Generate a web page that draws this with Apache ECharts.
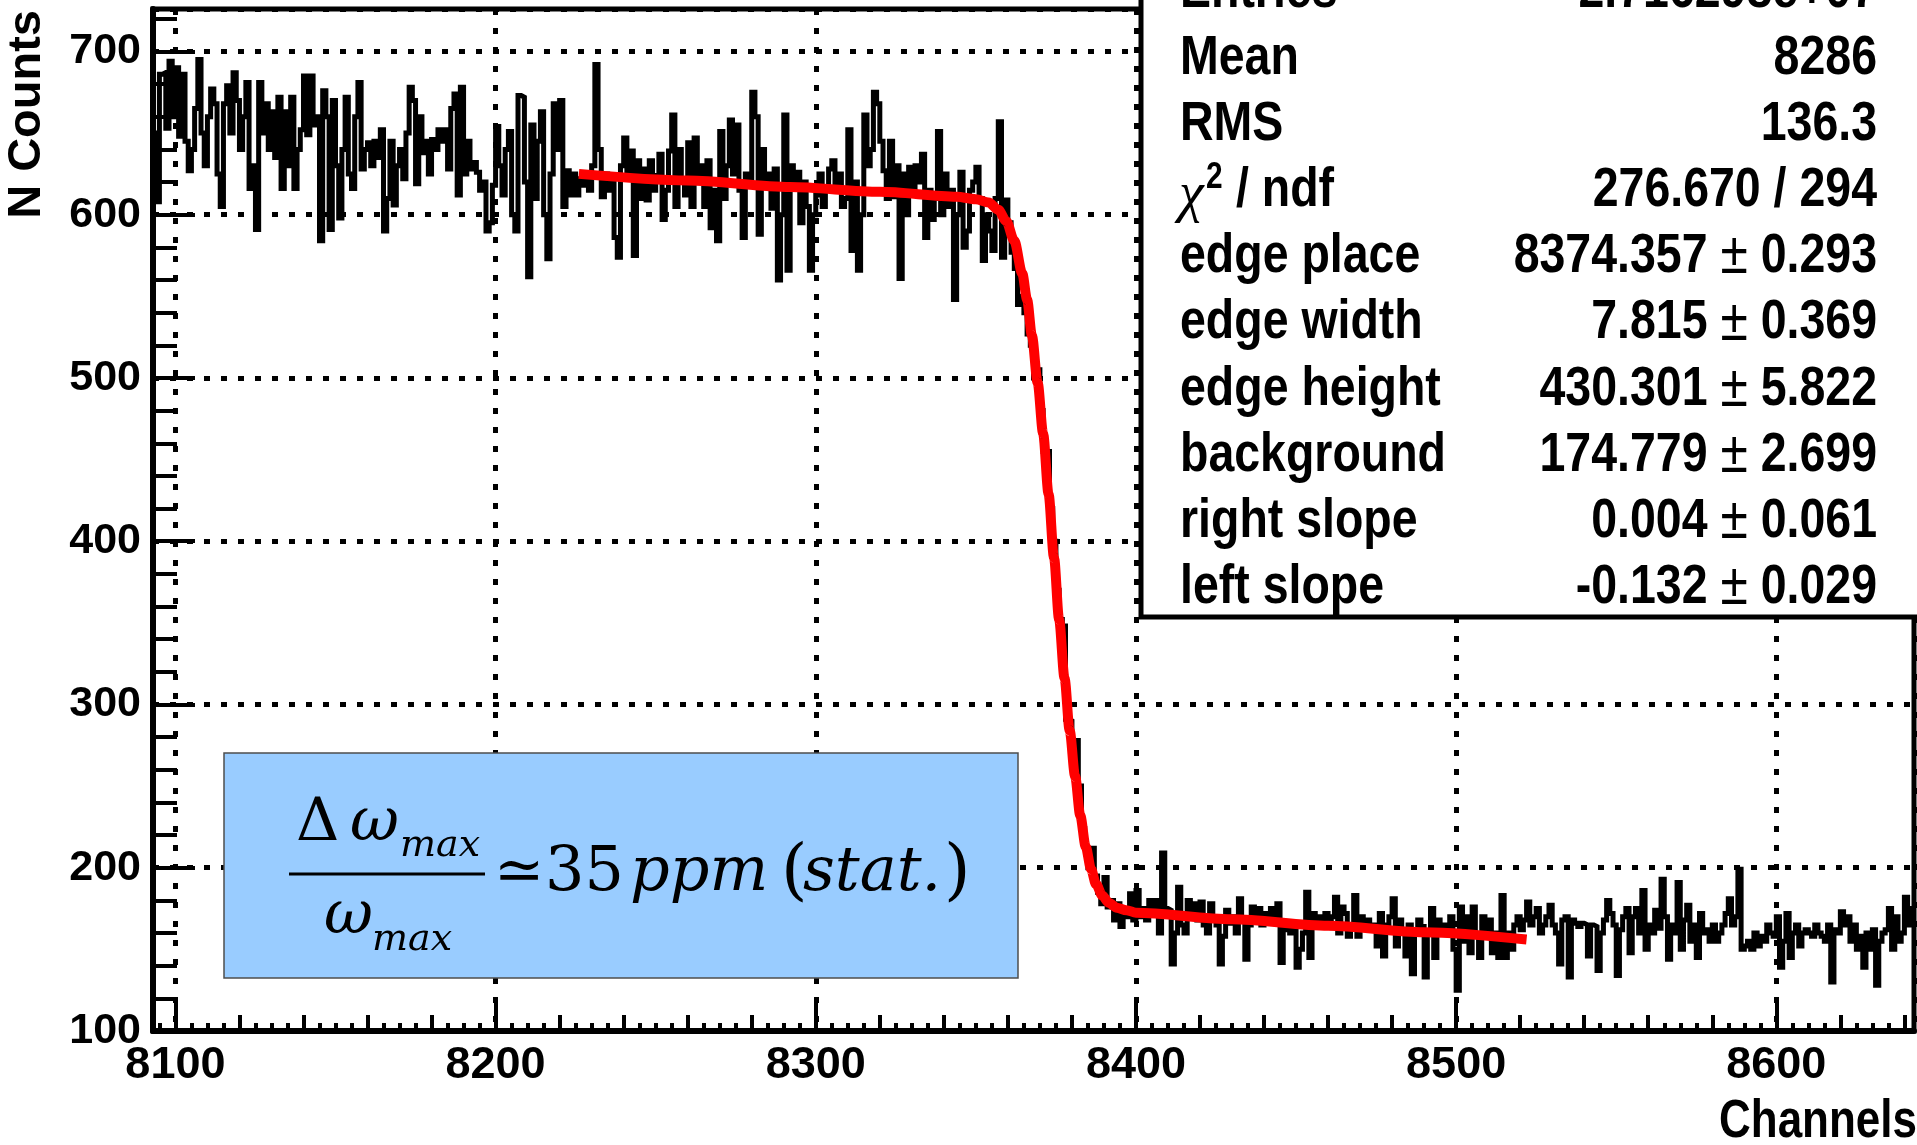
<!DOCTYPE html>
<html>
<head>
<meta charset="utf-8">
<script src="https://cdn.jsdelivr.net/npm/echarts@6/dist/echarts.min.js"></script>
<style>
  html, body { margin: 0; padding: 0; background: #ffffff; }
  #chart { width: 1917px; height: 1145px; }
</style>
</head>
<body>
<div id="chart"></div>
<script>
// ---- histogram: one bin per channel, low edge of the first bin ----
const firstChannel = 8093;

// counts on the high plateau, channels 8093 .. 8356
const plateauCounts = [
  650, 608, 686, 687, 653, 694, 660, 690, 648, 686, 645,
  627, 640, 665, 695, 650, 630, 660, 677, 668, 625,
  605, 668, 679, 650, 687, 670, 640, 660, 681, 616,
  630, 591, 681, 650, 668, 640, 663, 635, 672, 616,
  663, 630, 672, 616, 640, 652, 685, 649, 685, 655,
  660, 584, 676, 660, 591, 670, 630, 598, 640, 672,
  625, 616, 660, 681, 628, 640, 644, 630, 645, 635,
  652, 590, 610, 645, 606, 630, 640, 622, 650, 678,
  670, 619, 660, 638, 645, 625, 646, 640, 652, 645,
  652, 628, 665, 674, 612, 678, 625, 645, 628, 632,
  626, 615, 620, 590, 595, 618, 654, 630, 612, 640,
  651, 600, 590, 673, 672, 620, 562, 655, 610, 645,
  663, 600, 573, 625, 668, 640, 670, 605, 627, 612,
  625, 612, 622, 618, 624, 615, 630, 692,
  640, 611, 625, 615, 620, 586, 574, 630, 647, 622,
  639, 575, 633, 610, 628, 609, 633, 615, 624, 637,
  597, 615, 639, 661, 605, 640, 620, 612, 644, 605,
  647, 620, 630, 605, 633, 592, 615, 584, 651, 610,
  630, 658, 625, 655, 615, 586, 625, 620, 675, 660,
  588, 640, 620, 625, 604, 628, 560, 600, 661, 566,
  630, 620, 626, 595, 620, 605, 566, 600, 612, 625,
  605, 615, 628, 633, 615, 625, 605, 610, 652, 578,
  620, 566, 600, 661, 630, 640, 675, 668, 645, 627,
  610, 645, 611, 630, 561, 625, 600, 629, 615, 630,
  620, 637, 586, 615, 597, 610, 651, 600, 625, 605,
  615, 548, 600, 626, 580, 590, 615, 620, 629, 610,
  572, 600, 590, 578, 610
];

// counts across the edge, channels 8357 .. 8413
const edgeCounts = [
  657, 574, 609, 595, 577, 567, 545, 550, 540, 527,
  520, 500, 505, 480, 455, 455, 420, 400, 370, 352,
  348, 291, 290, 276, 278, 250, 224, 212, 200, 212,
  195, 185, 178, 194, 176, 180, 168, 178, 164, 172,
  170, 184, 168, 186, 170, 175, 168, 180, 172, 180,
  160, 209, 175, 174, 141, 160, 188
];

// counts on the low tail, channels 8414 .. 8642
const tailCounts = [
  165, 160, 180, 172, 178, 168, 179, 165, 160, 178,
  170, 165, 141, 158, 174, 166, 170, 160, 181, 168,
  144, 165, 176, 170, 175, 165, 172, 168, 175, 166,
  178, 142, 165, 162, 160, 165, 139, 150, 160, 185,
  145, 172, 168, 170, 165, 172, 165, 170, 182, 160,
  176, 172, 158, 165, 183, 158, 170, 165, 168, 162,
  165, 152, 172, 146, 165, 170, 181, 152, 168, 162,
  146, 165, 135, 160, 168, 164, 133, 160, 175, 145,
  168, 162, 165, 160, 170, 150, 125, 176, 155, 170,
  148, 176, 158, 145, 170, 160, 168, 148, 160, 145,
  183, 145, 160, 150, 165, 170, 162, 168, 179, 165,
  170, 175, 160, 165, 170, 177, 165, 160, 141, 168,
  170, 133, 168, 166, 164, 166, 165, 146, 165, 164,
  137, 160, 168, 180, 172, 165, 134, 162, 170, 175,
  148, 170, 175, 160, 186, 150, 165, 160, 174, 163,
  193, 170, 144, 165, 160, 191, 150, 168, 177, 155,
  165, 145, 172, 160, 162, 155, 165, 155, 160, 165,
  172, 181, 165, 170, 199, 150, 152, 155, 150, 160,
  152, 158, 155, 165, 160, 158, 170, 139, 155, 172,
  145, 160, 165, 152, 160, 162, 160, 158, 165, 160,
  158, 155, 165, 130, 162, 160, 173, 165, 170, 155,
  165, 150, 158, 139, 160, 150, 162, 128, 155, 160,
  162, 175, 150, 170, 155, 160, 182, 165, 175
];

// fitted edge function, sampled along the drawn curve [channel, counts]
const fitCurve = [
  [8226, 625], [8260, 621], [8292, 617], [8320, 614], [8344, 611],
  [8350, 609.5], [8354, 607.5], [8357, 603], [8359.5, 596], [8362, 584],
  [8364.5, 564], [8366, 548], [8367.5, 526], [8369.3, 497], [8371, 466],
  [8372.7, 429], [8374.4, 390], [8376, 352], [8377.7, 316], [8379.3, 284],
  [8381, 256], [8382.6, 232], [8384.3, 213], [8386, 199], [8387.5, 190],
  [8389.5, 183], [8391.5, 178.5], [8394, 175.5], [8397, 174], [8400, 172.5],
  [8430, 168.5], [8460, 164.5], [8490, 160.5], [8522, 156]
];

// axis ranges and labelled ticks
const xRange = [8093, 8643];
const yRange = [100, 726];
const xTickLabels = [8100, 8200, 8300, 8400, 8500, 8600];
const yTickLabels = [100, 200, 300, 400, 500, 600, 700];

// statistics / fit-parameter box
const statNames  = ['Entries', 'Mean', 'RMS', null, 'edge place', 'edge width',
                    'edge height', 'background', 'right slope', 'left slope'];
const statValues = ['2.716298e+07', '8286', '136.3', '276.670 / 294', '8374.357', '7.815',
                    '430.301', '174.779', '0.004', '-0.132'];
const statErrors = [null, null, null, null, '0.293', '0.369', '5.822', '2.699', '0.061', '0.029'];

const counts = plateauCounts.concat(edgeCounts, tailCounts);
const histPoints = counts.map((v, i) => [firstChannel + i, v]);
histPoints.push([firstChannel + counts.length, counts[counts.length - 1]]);

const SANS = '"Liberation Sans", Arial, Helvetica, sans-serif';
const SERIF = '"DejaVu Serif", "Liberation Serif", serif';
const NARROW = 0.83;   // horizontal squeeze for the condensed bold face

// ---- layout ----
const G = { left: 153, top: 9, right: 1914, bottom: 1031 };

const statsElements = [];
const rowY0 = -10, rowStep = 66.2;
statsElements.push({
  type: 'rect', z: 20,
  shape: { x: 1141, y: -20, width: 900, height: 637 },
  style: { fill: '#ffffff', stroke: '#000000', lineWidth: 5 }
});
statNames.forEach((name, i) => {
  const y = rowY0 + i * rowStep;
  if (name !== null) {
    statsElements.push({
      type: 'text', z: 21, x: 1180, y: y + 2, scaleX: NARROW,
      style: { text: name, font: 'bold 56px ' + SANS, fill: '#000', align: 'left', verticalAlign: 'middle' }
    });
  } else {
    statsElements.push({
      type: 'text', z: 21, x: 1179, y: y + 8,
      style: { text: 'χ', font: 'italic 56px "Liberation Serif", serif', fill: '#000', align: 'left', verticalAlign: 'middle' }
    });
    statsElements.push({
      type: 'text', z: 21, x: 1206, y: y - 11, scaleX: NARROW,
      style: { text: '2', font: 'bold 36px ' + SANS, fill: '#000', align: 'left', verticalAlign: 'middle' }
    });
    statsElements.push({
      type: 'text', z: 21, x: 1236, y: y + 2, scaleX: NARROW,
      style: { text: '/ ndf', font: 'bold 56px ' + SANS, fill: '#000', align: 'left', verticalAlign: 'middle' }
    });
  }
  const err = statErrors[i];
  const txt = err === null ? '{v|' + statValues[i] + '}'
                           : '{v|' + statValues[i] + ' }{pm|±}{v| ' + err + '}';
  statsElements.push({
    type: 'text', z: 21, x: 1877, y: y + 2, scaleX: NARROW,
    style: {
      text: txt, align: 'right', verticalAlign: 'middle', fill: '#000',
      rich: {
        v: { font: 'bold 56px ' + SANS, fill: '#000' },
        pm: { font: '60px ' + SANS, fill: '#000' }
      }
    }
  });
});

// ratio annotation box
function serifText(str, x, baseline, size, italic) {
  return {
    type: 'text', z: 21, x: x, y: baseline - 0.3 * size,
    style: { text: str, font: (italic ? 'italic ' : '') + size + 'px ' + SERIF,
             fill: '#000', align: 'left', verticalAlign: 'middle' }
  };
}
const formulaElements = [
  { type: 'rect', z: 20, shape: { x: 224, y: 753, width: 794, height: 225 },
    style: { fill: '#99ccff', stroke: '#4d4d4d', lineWidth: 1.5 } },
  serifText('Δ', 296, 842, 60, false),
  serifText('ω', 350, 842, 60, true),
  serifText('max', 400, 858, 38, true),
  { type: 'line', z: 21, shape: { x1: 289, y1: 874, x2: 485, y2: 874 },
    style: { stroke: '#000', lineWidth: 3 } },
  serifText('ω', 324, 935, 60, true),
  serifText('max', 372, 952, 38, true),
  serifText('≃', 494, 892, 60, false),
  serifText('35', 545, 892, 62, false),
  serifText('ppm', 630, 892, 62, true),
  serifText('(', 781, 895, 68, false),
  serifText('stat.', 803, 892, 62, true),
  serifText(')', 944, 895, 68, false)
];

const titleElements = [
  { type: 'text', z: 21, x: 27, y: 10, rotation: Math.PI / 2,
    style: { text: 'N Counts', font: 'bold 47px ' + SANS, fill: '#000', align: 'right', verticalAlign: 'middle' } },
  { type: 'text', z: 21, x: 1917, y: 1122, scaleX: NARROW,
    style: { text: 'Channels', font: 'bold 53px ' + SANS, fill: '#000', align: 'right', verticalAlign: 'middle' } }
];

const tickLine = { color: '#000', width: 4 };

const option = {
  animation: false,
  backgroundColor: '#ffffff',
  grid: {
    left: G.left, top: G.top, right: 1917 - G.right, bottom: 1145 - G.bottom,
    show: true, borderColor: '#000', borderWidth: 5, backgroundColor: 'transparent',
    containLabel: false, outerBoundsMode: 'none'
  },
  xAxis: [
    {
      type: 'value', position: 'bottom', min: xRange[0], max: xRange[1],
      splitNumber: 5, minInterval: 100, maxInterval: 100,
      axisLine: { show: true, onZero: false, lineStyle: { color: '#000', width: 6 } },
      axisTick: { show: true, inside: true, length: 32, lineStyle: tickLine },
      minorTick: { show: true, splitNumber: 20, length: 8, lineStyle: tickLine },
      axisLabel: {
        show: true, margin: 12, color: '#000', fontSize: 45, fontWeight: 'bold', fontFamily: SANS,
        showMinLabel: true, showMaxLabel: true,
        formatter: v => (xTickLabels.indexOf(v) >= 0 ? String(v) : '')
      },
      splitLine: { show: true, lineStyle: { color: '#000', width: 5, type: [6, 13] } },
      minorSplitLine: { show: false }
    },
    {
      // intermediate tick marks every 20 channels
      type: 'value', position: 'bottom', min: xRange[0], max: xRange[1],
      splitNumber: 27, minInterval: 20, maxInterval: 20,
      axisLine: { show: false },
      axisTick: { show: true, inside: true, length: 16, lineStyle: tickLine },
      axisLabel: { show: false },
      splitLine: { show: false }
    }
  ],
  yAxis: {
    type: 'value', min: yRange[0], max: yRange[1],
    splitNumber: 6, minInterval: 100, maxInterval: 100,
    axisLine: { show: true, onZero: false, lineStyle: { color: '#000', width: 6 } },
    axisTick: { show: true, inside: true, length: 42, lineStyle: tickLine },
    minorTick: { show: true, splitNumber: 5, length: 24, lineStyle: tickLine },
    axisLabel: {
      show: true, margin: 12, color: '#000', fontSize: 43, fontWeight: 'bold', fontFamily: SANS,
      formatter: v => (yTickLabels.indexOf(v) >= 0 ? String(v) : '')
    },
    splitLine: { show: true, lineStyle: { color: '#000', width: 5, type: [6, 11] } }
  },
  series: [
    {
      name: 'counts', type: 'line', xAxisIndex: 0, step: 'end', data: histPoints,
      showSymbol: false, symbol: 'none', sampling: null, z: 3,
      lineStyle: { color: '#000', width: 5, join: 'miter' }
    },
    {
      name: 'fit', type: 'line', xAxisIndex: 0, data: fitCurve, smooth: 0.3, smoothMonotone: 'x',
      showSymbol: false, symbol: 'none', z: 4,
      lineStyle: { color: '#ff0000', width: 10 }
    }
  ],
  graphic: { elements: statsElements.concat(formulaElements, titleElements) }
};

const chart = echarts.init(document.getElementById('chart'), null, { renderer: 'canvas' });
chart.setOption(option);
</script>
</body>
</html>
